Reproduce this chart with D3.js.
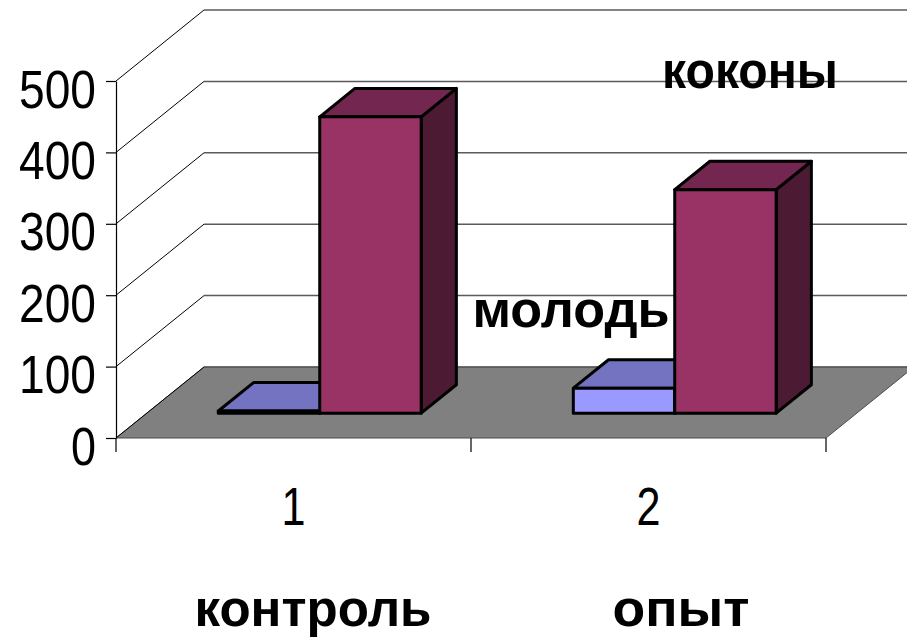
<!DOCTYPE html>
<html>
<head>
<meta charset="utf-8">
<script src="https://cdn.jsdelivr.net/npm/d3@7"></script>
<style>
  body { margin: 0; background: #ffffff; }
</style>
</head>
<body>
<div id="chart"></div>
<script>
// Data
const categories = ["1", "2"];
const groupLabels = ["контроль", "опыт"];
const series = ["молодь", "коконы"];
const youngValues = [3, 35];
const cocoonValues = [415, 313];
const yTicks = [0, 100, 200, 300, 400, 500];

const width = 907, height = 640;

// 3D box: offsets of the back wall from the front plane
const depthX = 88, depthY = 71;
const barFront = 0.35, barBack = 0.75;

const svg = d3.select("#chart").append("svg")
    .attr("width", width)
    .attr("height", height)
    .style("background", "#ffffff");

// Scales
const y = d3.scaleLinear()
    .domain([0, 500])
    .range([438, 81]);

const x0 = d3.scaleBand()
    .domain(categories)
    .range([116, 826]);

const x1 = d3.scaleBand()
    .domain(series)
    .range([0, x0.bandwidth()])
    .paddingOuter(0.75)
    .align(0.47);

const color = {
    "молодь": {front: "#9999ff", top: "#7373c2", side: "#5c5c99"},
    "коконы": {front: "#993366", top: "#732650", side: "#4d1a33"}
};

// project a point at depth d (0 = front, 1 = back wall)
const px = (x, d) => x + d * depthX;
const py = (v, d) => y(v) - d * depthY;

const [xl, xr] = x0.range();

// Floor
svg.append("polygon")
    .attr("points", [[xl, py(0, 0)], [xr, py(0, 0)], [px(xr, 1), py(0, 1)], [px(xl, 1), py(0, 1)]].join(" "))
    .attr("fill", "#808080")
    .attr("stroke", "#4d4d4d")
    .attr("stroke-width", 1);

// Back wall gridlines
svg.append("g")
    .selectAll("line")
    .data(yTicks)
    .enter()
    .append("line")
    .attr("x1", px(xl, 1))
    .attr("x2", px(xr, 1))
    .attr("y1", d => py(d, 1))
    .attr("y2", d => py(d, 1))
    .attr("stroke", "#5a5a5a")
    .attr("stroke-width", 1.5);

// Side wall gridlines
svg.append("g")
    .selectAll("line")
    .data(yTicks)
    .enter()
    .append("line")
    .attr("x1", xl)
    .attr("x2", px(xl, 1))
    .attr("y1", d => py(d, 0))
    .attr("y2", d => py(d, 1))
    .attr("stroke", "#000")
    .attr("stroke-width", 1);

// Y axis
const yAxis = svg.append("g")
    .attr("transform", `translate(${xl},0)`)
    .call(d3.axisLeft(y).tickValues(yTicks).tickSize(10).tickSizeOuter(0));

yAxis.select(".domain").attr("stroke", "#000").attr("stroke-width", 1.2);
yAxis.selectAll(".tick line").attr("stroke", "#000").attr("stroke-width", 1.2);
yAxis.selectAll(".tick text")
    .attr("x", -20)
    .attr("dy", 26)
    .attr("font-family", "'Liberation Sans', Arial, sans-serif")
    .attr("font-size", 54)
    .attr("fill", "#000")
    .attr("textLength", d => String(d).length * 26 - 1)
    .attr("lengthAdjust", "spacingAndGlyphs");

// X axis tick marks at category boundaries
const bounds = categories.map(c => x0(c)).concat([xr]);
svg.append("g")
    .selectAll("line")
    .data(bounds)
    .enter()
    .append("line")
    .attr("x1", d => d)
    .attr("x2", d => d)
    .attr("y1", y(0))
    .attr("y2", y(0) + 14)
    .attr("stroke", "#000")
    .attr("stroke-width", 1.2);

// Category numbers
svg.append("g")
    .selectAll("text")
    .data(categories)
    .enter()
    .append("text")
    .attr("x", d => x0(d) + x0.bandwidth() / 2)
    .attr("y", 525)
    .attr("text-anchor", "middle")
    .attr("font-family", "'Liberation Sans', Arial, sans-serif")
    .attr("font-size", 53)
    .attr("textLength", 24)
    .attr("lengthAdjust", "spacingAndGlyphs")
    .text(d => d);

// Group names under the axis
const groupPos = [313, 681];
const groupWidth = [237, 137];
svg.append("g")
    .selectAll("text")
    .data(groupLabels)
    .enter()
    .append("text")
    .attr("x", (d, i) => groupPos[i])
    .attr("y", 626)
    .attr("text-anchor", "middle")
    .attr("font-family", "'Liberation Sans', Arial, sans-serif")
    .attr("font-weight", "bold")
    .attr("font-size", 52)
    .attr("textLength", (d, i) => groupWidth[i])
    .attr("lengthAdjust", "spacingAndGlyphs")
    .text(d => d);

// Bars
const barData = [];
categories.forEach((c, i) => {
    barData.push({cat: c, s: series[0], v: youngValues[i]});
    barData.push({cat: c, s: series[1], v: cocoonValues[i]});
});

barData.forEach(d => {
    const xa = x0(d.cat) + x1(d.s);
    const xb = xa + x1.bandwidth();
    const c = color[d.s];
    const g = svg.append("g")
        .attr("stroke", "#000")
        .attr("stroke-width", 3)
        .attr("stroke-linejoin", "round");

    // side face
    g.append("polygon")
        .attr("points", [[px(xb, barFront), py(d.v, barFront)], [px(xb, barBack), py(d.v, barBack)],
                         [px(xb, barBack), py(0, barBack)], [px(xb, barFront), py(0, barFront)]].join(" "))
        .attr("fill", c.side);

    // top face
    g.append("polygon")
        .attr("points", [[px(xa, barFront), py(d.v, barFront)], [px(xb, barFront), py(d.v, barFront)],
                         [px(xb, barBack), py(d.v, barBack)], [px(xa, barBack), py(d.v, barBack)]].join(" "))
        .attr("fill", c.top);

    // front face
    g.append("rect")
        .attr("x", px(xa, barFront))
        .attr("y", py(d.v, barFront))
        .attr("width", x1.bandwidth())
        .attr("height", y(0) - y(d.v))
        .attr("fill", c.front);
});

// Series labels
const seriesLabelX = [571, 750];
const seriesLabelY = [327, 88];
const seriesLabelW = [197, 176];
svg.append("g")
    .selectAll("text")
    .data(series)
    .enter()
    .append("text")
    .attr("x", (d, i) => seriesLabelX[i])
    .attr("y", (d, i) => seriesLabelY[i])
    .attr("text-anchor", "middle")
    .attr("font-family", "'Liberation Sans', Arial, sans-serif")
    .attr("font-weight", "bold")
    .attr("font-size", 52)
    .attr("textLength", (d, i) => seriesLabelW[i])
    .attr("lengthAdjust", "spacingAndGlyphs")
    .text(d => d);
</script>
</body>
</html>
